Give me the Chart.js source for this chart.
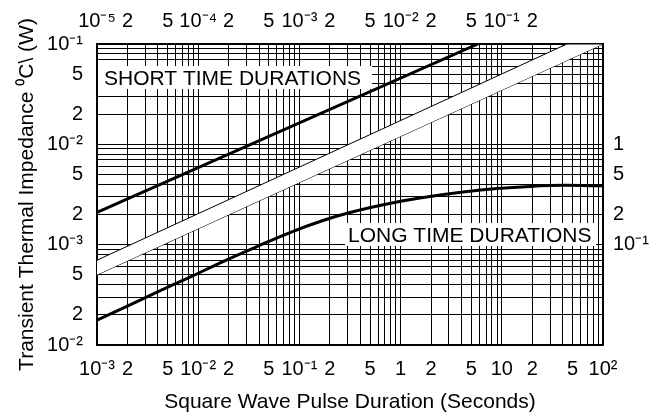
<!DOCTYPE html>
<html>
<head>
<meta charset="utf-8">
<script src="https://cdn.jsdelivr.net/npm/chart.js@4.4.1/dist/chart.umd.min.js"></script>
<style>
  html, body { margin: 0; padding: 0; background: #fff; }
  #wrap { width: 662px; height: 415px; }
</style>
</head>
<body>
<div id="wrap"><canvas id="chart" width="662" height="415"></canvas></div>
<script>
/* global Chart */
'use strict';

const FONT = '"Liberation Sans", Arial, sans-serif';

// bottom axis: pulse duration (s), long time durations
const xTicks = [1e-3, 2e-3, 5e-3, 1e-2, 2e-2, 5e-2, 1e-1, 2e-1, 5e-1, 1, 2, 5, 10, 20, 50, 100];
const xLabels = ['10⁻³', '2', '5', '10⁻²', '2', '5', '10⁻¹', '2', '5', '1', '2', '5', '10', '2', '5', '10²'];

// top axis: pulse duration (s), short time durations
const topTicks = [1e-5, 2e-5, 5e-5, 1e-4, 2e-4, 5e-4, 1e-3, 2e-3, 5e-3, 1e-2, 2e-2, 5e-2, 1e-1, 2e-1];
const topLabels = ['10⁻⁵', '2', '5', '10⁻⁴', '2', '5', '10⁻³', '2', '5', '10⁻²', '2', '5', '10⁻¹', '2'];

// left axis: impedance, short time durations (bottom label is printed as 10^-2 on the original)
const leftTicks = [1e-4, 2e-4, 5e-4, 1e-3, 2e-3, 5e-3, 1e-2, 2e-2, 5e-2, 1e-1];
const leftLabels = ['10⁻²', '2', '5', '10⁻³', '2', '5', '10⁻²', '2', '5', '10⁻¹'];

// right axis: impedance, long time durations
const rightTicks = [0.1, 0.2, 0.5, 1];
const rightLabels = ['10⁻¹', '2', '5', '1'];

// short time durations curve (top / left axes)
const shortT = [1e-5, 5.8e-2];
const shortZ = [2.1e-3, 0.1];

// long time durations curve (bottom / right axes)
const longT = [1e-3, 1.81e-3, 3.92e-3, 8.3e-3, 1.76e-2, 3.81e-2, 8.07e-2, 0.171, 0.316, 0.92, 1.95, 4.14, 8.97, 19, 42.1, 100];
const longZ = [0.0177, 0.0233, 0.0337, 0.0475, 0.0679, 0.0957, 0.132, 0.174, 0.209, 0.266, 0.302, 0.335, 0.363, 0.381, 0.390, 0.386];

// white band separating the two grids (bottom / left axes)
const bandUpperT = [1e-3, 44, 100];
const bandUpperZ = [7e-4, 0.1, 0.1];
const bandLowerT = [1e-3, 100];
const bandLowerZ = [5e-4, 0.1];

const pts = (xs, ys) => xs.map((x, i) => ({ x, y: ys[i] }));

// 1..9 per decade, for the grid lines
function decadeGrid(min, max) {
  const out = [];
  for (let e = Math.round(Math.log10(min)); e < Math.round(Math.log10(max)); e++) {
    for (let m = 1; m < 10; m++) out.push(m * Math.pow(10, e));
  }
  out.push(max);
  return out;
}

function labelFor(v, ticks, labels) {
  const i = ticks.findIndex((t) => Math.abs(v / t - 1) < 1e-6);
  return i >= 0 ? labels[i] : '';
}

const tickFont = { size: 20, family: FONT };
const borderOpts = { display: true, color: '#000', width: 1.5 };

const boxLabels = {
  id: 'boxLabels',
  afterDatasetsDraw(chart) {
    const { ctx, chartArea: a } = chart;
    ctx.save();
    ctx.font = '21px ' + FONT;
    ctx.textBaseline = 'alphabetic';
    ctx.fillStyle = '#fff';
    ctx.fillRect(a.left + 1, a.top + 22, 274, 23);
    ctx.fillRect(a.left + 248, a.top + 179, 251, 23);
    ctx.fillStyle = '#000';
    ctx.fillText('SHORT TIME DURATIONS', a.left + 7, a.top + 41);
    ctx.fillText('LONG TIME DURATIONS', a.left + 251, a.top + 198);
    ctx.restore();
  },
};

document.addEventListener('DOMContentLoaded', () => {
  new Chart(document.getElementById('chart'), {
    type: 'line',
    data: {
      datasets: [
        {
          data: pts(shortT, shortZ),
          xAxisID: 'x2',
          yAxisID: 'y',
          borderColor: '#000',
          borderWidth: 3,
          pointRadius: 0,
          fill: false,
        },
        {
          data: pts(longT, longZ),
          xAxisID: 'x',
          yAxisID: 'y2',
          borderColor: '#000',
          borderWidth: 3,
          pointRadius: 0,
          cubicInterpolationMode: 'monotone',
          fill: false,
        },
        {
          data: pts(bandUpperT, bandUpperZ),
          xAxisID: 'x',
          yAxisID: 'y',
          borderColor: '#000',
          borderWidth: 1,
          pointRadius: 0,
          backgroundColor: '#fff',
          fill: '+1',
        },
        {
          data: pts(bandLowerT, bandLowerZ),
          xAxisID: 'x',
          yAxisID: 'y',
          borderColor: '#000',
          borderWidth: 1,
          pointRadius: 0,
          fill: false,
        },
      ],
    },
    options: {
      responsive: false,
      animation: false,
      layout: { padding: 0 },
      plugins: { legend: { display: false }, tooltip: { enabled: false } },
      scales: {
        x: {
          type: 'logarithmic',
          position: 'bottom',
          min: 1e-3,
          max: 100,
          afterBuildTicks: (s) => { s.ticks = decadeGrid(1e-3, 100).map((value) => ({ value })); },
          afterFit: (s) => { s.height = 70; },
          grid: { color: '#000', lineWidth: 1, drawTicks: false },
          border: borderOpts,
          ticks: {
            autoSkip: false, maxRotation: 0, padding: 12, color: '#000', font: tickFont,
            callback: (v) => labelFor(v, xTicks, xLabels),
          },
          title: {
            display: true, text: 'Square Wave Pulse Duration (Seconds)', color: '#000',
            font: { size: 21, family: FONT }, padding: { top: 0, bottom: 0 },
          },
        },
        x2: {
          type: 'logarithmic',
          position: 'top',
          min: 1e-5,
          max: 1,
          afterBuildTicks: (s) => { s.ticks = topTicks.map((value) => ({ value })); },
          afterFit: (s) => { s.height = 44; },
          grid: { display: false, drawTicks: false },
          border: borderOpts,
          ticks: {
            autoSkip: false, maxRotation: 0, padding: 11, color: '#000', font: tickFont,
            callback: (v) => labelFor(v, topTicks, topLabels),
          },
        },
        y: {
          type: 'logarithmic',
          position: 'left',
          min: 1e-4,
          max: 1e-1,
          afterBuildTicks: (s) => { s.ticks = decadeGrid(1e-4, 1e-1).map((value) => ({ value })); },
          afterFit: (s) => { s.width = 97; },
          grid: { color: '#000', lineWidth: 1, drawTicks: false },
          border: borderOpts,
          ticks: {
            autoSkip: false, padding: 14, color: '#000', font: tickFont,
            callback: (v) => labelFor(v, leftTicks, leftLabels),
          },
          title: {
            display: true, text: 'Transient Thermal Impedance ⁰C\\ (W)', color: '#000',
            font: { size: 21, family: FONT }, padding: { top: 15, bottom: 0 },
          },
        },
        y2: {
          type: 'logarithmic',
          position: 'right',
          min: 1e-2,
          max: 10,
          afterBuildTicks: (s) => { s.ticks = rightTicks.map((value) => ({ value })); },
          afterFit: (s) => { s.width = 59; },
          grid: { display: false, drawTicks: false },
          border: borderOpts,
          ticks: {
            autoSkip: false, padding: 10, color: '#000', font: tickFont,
            callback: (v) => labelFor(v, rightTicks, rightLabels),
          },
        },
      },
    },
    plugins: [boxLabels],
  });
});
</script>
</body>
</html>
